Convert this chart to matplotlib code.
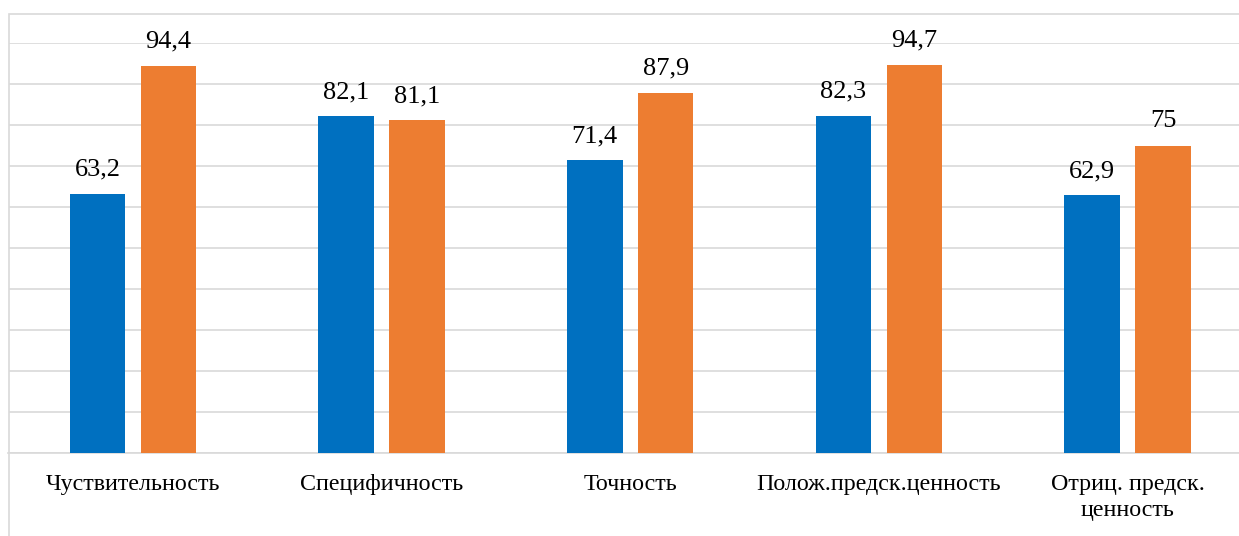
import matplotlib.pyplot as plt
import numpy as np
from matplotlib.patches import Rectangle

categories = ['Чуствительность', 'Специфичность', 'Точность',
              'Полож.предск.ценность', 'Отриц. предск.\nценность']
series_a = [63.2, 82.1, 71.4, 82.3, 62.9]
series_b = [94.4, 81.1, 87.9, 94.7, 75]

plt.rcParams['font.family'] = ['Liberation Serif', 'DejaVu Serif']

W, H = 1239, 536
fig = plt.figure(figsize=(W / 100, H / 100), dpi=100)

# outer chart frame (runs past the right and bottom edges)
fig.patches.append(Rectangle((8.5 / W, -0.1), 1.2, (H - 13.5) / H + 0.1,
                             transform=fig.transFigure, fill=False,
                             edgecolor='#d9d9d9', linewidth=1.2))

ax = fig.add_axes([8.5 / W, (H - 453) / H, (1252 - 8.5) / W, (453 - 43) / H])

x = np.arange(len(categories))
w = 0.223
off = 0.1426
bars_a = ax.bar(x - off, series_a, w, color='#0070C0', zorder=3)
bars_b = ax.bar(x + off, series_b, w, color='#ED7D31', zorder=3)

for bars, vals in ((bars_a, series_a), (bars_b, series_b)):
    for b, v in zip(bars, vals):
        ax.annotate(f'{v:g}'.replace('.', ','),
                    (b.get_x() + b.get_width() / 2, v),
                    xytext=(0, 13), textcoords='offset points',
                    ha='center', va='baseline', fontsize=19,
                    annotation_clip=False)

ax.set_xlim(-0.5, len(categories) - 0.5)
ax.set_ylim(0, 100)
ax.set_yticks(np.arange(0, 101, 10))
ax.yaxis.grid(True, color='#d9d9d9', linewidth=1.2)
ax.set_axisbelow(True)
ax.tick_params(axis='y', left=False, labelleft=False)
ax.tick_params(axis='x', length=0, pad=15)
ax.set_xticks(x)
ax.set_xticklabels(categories, fontsize=17.3, linespacing=1.35)
for s in ('top', 'right', 'left'):
    ax.spines[s].set_visible(False)
ax.spines['bottom'].set_color('#d9d9d9')
ax.spines['bottom'].set_linewidth(1.2)

fig.savefig('out.png', dpi=100)
